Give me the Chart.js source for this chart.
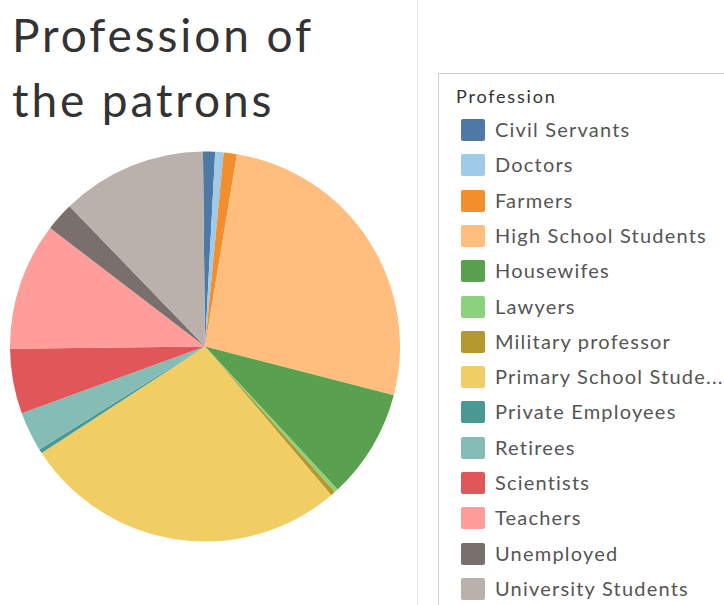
<!DOCTYPE html>
<html>
<head>
<meta charset="utf-8">
<script src="https://cdn.jsdelivr.net/npm/chart.js@4.4.0/dist/chart.umd.min.js"></script>
<style>
  html, body { margin: 0; padding: 0; background: #fff; overflow: hidden; }
  body { width: 724px; height: 605px; position: relative; font-family: Lato, "Open Sans", sans-serif; }
  #title { position: absolute; left: 12px; top: 2px; font-size: 46px; line-height: 65px; color: #333; letter-spacing: 2.9px; }
  #divider { position: absolute; left: 417px; top: 0; width: 1px; height: 605px; background: #e2e2e2; }
  #pieWrap { position: absolute; left: 10px; top: 151px; width: 390px; height: 391px; }
  #legendBox { position: absolute; left: 438px; top: 73px; width: 320px; height: 560px; border: 1px solid #cfcfcf; }
  #legendTitle { position: absolute; left: 17px; top: 11px; font-size: 18px; color: #333; letter-spacing: 1.8px; }
  .item { position: absolute; left: 22px; height: 22px; white-space: nowrap; }
  .sw { position: absolute; left: 0; top: 0; width: 24px; height: 22px; border-radius: 2px; }
  .lbl { position: absolute; left: 34px; top: -2px; font-size: 20px; color: #555; letter-spacing: 1.2px; }
</style>
</head>
<body>
<div id="title">Profession of<br>the patrons</div>
<div id="divider"></div>
<div id="pieWrap"><canvas id="professionPie"></canvas></div>
<div id="legendBox"><div id="legendTitle">Profession</div></div>
<script>
// data (share of patrons, %)
const professions = [
  "Civil Servants", "Doctors", "Farmers", "High School Students", "Housewifes",
  "Lawyers", "Military professor", "Primary School Students", "Private Employees",
  "Retirees", "Scientists", "Teachers", "Unemployed", "University Students"
];
const shares = [1.0, 0.7, 1.1, 26.5, 9.1, 0.3, 0.4, 27.1, 0.35, 3.3, 5.4, 10.6, 2.4, 12.1];
const legendLabels = [
  "Civil Servants", "Doctors", "Farmers", "High School Students", "Housewifes",
  "Lawyers", "Military professor", "Primary School Stude...", "Private Employees",
  "Retirees", "Scientists", "Teachers", "Unemployed", "University Students"
];
const colors = [
  "#4e79a7", "#a0cbe8", "#f28e2b", "#ffbe7d", "#59a14f", "#8cd17d", "#b6992d",
  "#f1ce63", "#499894", "#86bcb6", "#e15759", "#ff9d9a", "#79706e", "#bab0ac"
];

const ctx = document.getElementById("professionPie").getContext("2d");

let pieChart = new Chart(ctx, {
  type: "pie",
  data: {
    labels: professions,
    datasets: [
      {
        data: shares,
        backgroundColor: colors,
        borderWidth: 0
      }
    ]
  },
  options: {
    responsive: true,
    maintainAspectRatio: false,
    animation: false,
    rotation: -0.6,
    layout: { padding: 0 },
    plugins: {
      legend: { display: false },
      tooltip: { enabled: false }
    }
  }
});

// legend on the right, built from the same arrays
const box = document.getElementById("legendBox");
legendLabels.forEach((name, i) => {
  const item = document.createElement("div");
  item.className = "item";
  item.style.top = (45 + i * 35.3) + "px";
  item.innerHTML = '<div class="sw" style="background:' + colors[i] + '"></div><div class="lbl">' + name + '</div>';
  box.appendChild(item);
});
</script>
</body>
</html>
